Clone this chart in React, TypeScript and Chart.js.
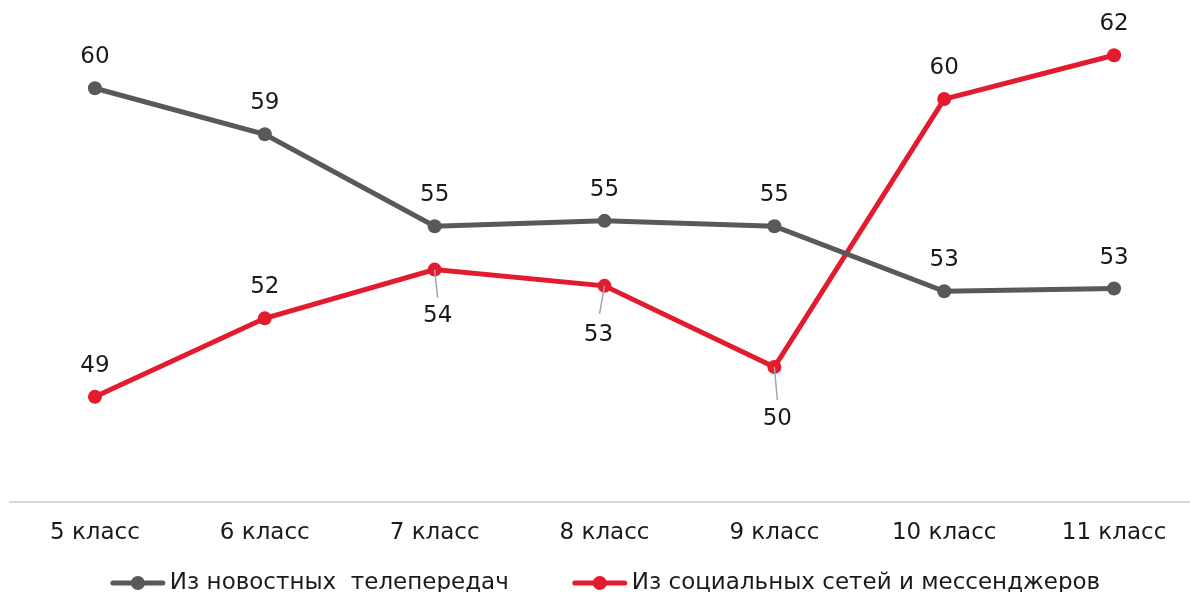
import React, { useEffect, useRef } from "react";
import { Chart, registerables } from "chart.js";

Chart.register(...registerables);

// ---- data ----
const categories = ["5 класс", "6 класс", "7 класс", "8 класс", "9 класс", "10 класс", "11 класс"];
const newsTvValues = [60.3, 58.6, 55.2, 55.4, 55.2, 52.8, 52.9];
const socialValues = [48.9, 51.8, 53.6, 53.0, 50.0, 59.9, 61.52];
const seriesNames = ["Из новостных  телепередач", "Из социальных сетей и мессенджеров"];

// ---- styles ----
const GRAY = "#595959";
const RED = "#e31b2e";
const TEXT = "#1a1a1a";
const FONT = "'DejaVu Sans', sans-serif";
const FONT_SIZE = 23;

// label placement per point: dx, dy of label centre; optional leader end offset
type LabelPos = { dx: number; dy: number; leader?: [number, number] };
const grayLabelPos: LabelPos[] = categories.map(() => ({ dx: 0, dy: -31 }));
const redLabelPos: LabelPos[] = [
  { dx: 0, dy: -31 },
  { dx: 0, dy: -31 },
  { dx: 3, dy: 46, leader: [3, 28] },
  { dx: -6, dy: 49, leader: [-5, 28] },
  { dx: 3, dy: 52, leader: [3, 33] },
  { dx: 0, dy: -31 },
  { dx: 0, dy: -31 },
];

const dataLabelPlugin = {
  id: "dataLabels",
  afterDatasetsDraw(chart: any) {
    const ctx = chart.ctx;
    const placements = [grayLabelPos, redLabelPos];
    chart.data.datasets.forEach((ds: any, di: number) => {
      const meta = chart.getDatasetMeta(di);
      meta.data.forEach((pt: any, i: number) => {
        const pos = placements[di][i];
        const v = ds.data[i] as number;
        ctx.save();
        if (pos.leader) {
          ctx.strokeStyle = "#a6a6a6";
          ctx.lineWidth = 1.5;
          ctx.beginPath();
          ctx.moveTo(pt.x, pt.y);
          ctx.lineTo(pt.x + pos.leader[0], pt.y + pos.leader[1]);
          ctx.stroke();
        }
        ctx.fillStyle = TEXT;
        ctx.font = `${FONT_SIZE}px ${FONT}`;
        ctx.textAlign = "center";
        ctx.textBaseline = "middle";
        ctx.fillText(String(Math.round(v)), pt.x + pos.dx, pt.y + pos.dy);
        ctx.restore();
      });
    });
  },
};

// legend drawn below the axis: line-with-marker icon + text per series
const legendPlugin = {
  id: "lineLegend",
  afterDraw(chart: any) {
    const ctx = chart.ctx;
    const iconW = 56;
    const iconGap = 4;
    const itemGap = 63;
    const y = chart.height - 29;
    ctx.save();
    ctx.font = `${FONT_SIZE}px ${FONT}`;
    ctx.textBaseline = "middle";
    ctx.textAlign = "left";
    const items = chart.data.datasets.map((ds: any) => ({
      text: ds.label as string,
      color: ds.borderColor as string,
      w: ctx.measureText(ds.label).width,
    }));
    const total = items.reduce((s: number, it: any) => s + iconW + iconGap + it.w, 0) + itemGap * (items.length - 1);
    let x = chart.width / 2 - total / 2;
    items.forEach((it: any) => {
      ctx.strokeStyle = it.color;
      ctx.lineWidth = 5;
      ctx.lineCap = "round";
      ctx.beginPath();
      ctx.moveTo(x + 3, y);
      ctx.lineTo(x + iconW - 3, y);
      ctx.stroke();
      ctx.fillStyle = it.color;
      ctx.beginPath();
      ctx.arc(x + iconW / 2, y, 7, 0, Math.PI * 2);
      ctx.fill();
      ctx.fillStyle = TEXT;
      ctx.fillText(it.text, x + iconW + iconGap, y);
      x += iconW + iconGap + it.w + itemGap;
    });
    ctx.restore();
  },
};

export default function App() {
  const ref = useRef<HTMLCanvasElement | null>(null);

  useEffect(() => {
    if (!ref.current) return;
    const chart = new Chart(ref.current, {
      type: "line",
      data: {
        labels: categories,
        datasets: [
          {
            label: seriesNames[0],
            data: newsTvValues,
            borderColor: GRAY,
            backgroundColor: GRAY,
            borderWidth: 5,
            pointRadius: 7,
            pointStyle: "circle",
            pointBackgroundColor: GRAY,
            pointBorderWidth: 0,
            tension: 0,
          },
          {
            label: seriesNames[1],
            data: socialValues,
            borderColor: RED,
            backgroundColor: RED,
            borderWidth: 5,
            pointRadius: 7,
            pointStyle: "circle",
            pointBackgroundColor: RED,
            pointBorderWidth: 0,
            tension: 0,
          },
        ],
      },
      options: {
        responsive: false,
        animation: false,
        layout: { padding: { left: 10, right: 11, top: 10, bottom: 56 } },
        scales: {
          x: {
            offset: true,
            grid: { display: false },
            border: { display: true, color: "#d9d9d9", width: 2 },
            ticks: { color: TEXT, font: { family: FONT, size: FONT_SIZE }, padding: 9 },
          },
          y: {
            display: false,
            min: 45,
            max: 63.19,
          },
        },
        plugins: {
          legend: { display: false },
          tooltip: { enabled: false },
        },
      },
      plugins: [dataLabelPlugin, legendPlugin],
    });
    return () => chart.destroy();
  }, []);

  return (
    <div style={{ position: "fixed", left: 0, top: 0, width: 1190, height: 592, overflow: "hidden", background: "#fff" }}>
      <canvas ref={ref} width={1210} height={612} style={{ display: "block" }} />
    </div>
  );
}
